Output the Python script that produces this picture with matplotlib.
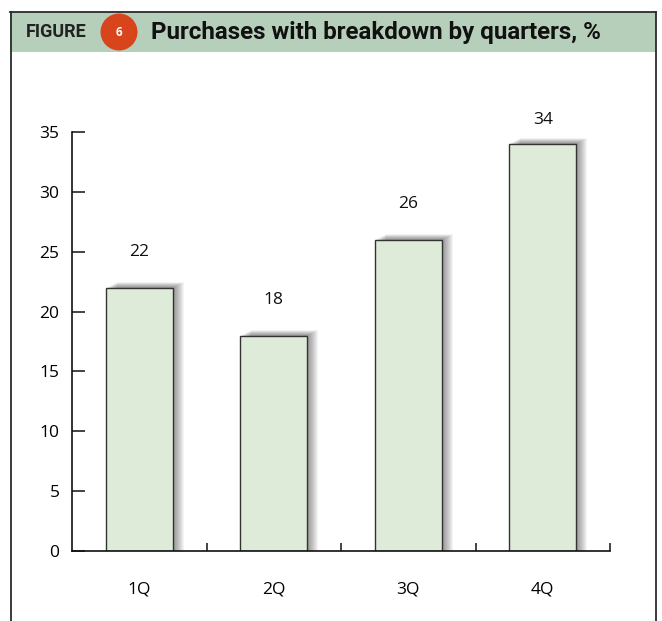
import matplotlib
matplotlib.use("Agg")
import matplotlib.pyplot as plt
from matplotlib.patches import Rectangle, Ellipse
from matplotlib.lines import Line2D

# data
quarters = ["1Q", "2Q", "3Q", "4Q"]
values = [22, 18, 26, 34]
yticks = [0, 5, 10, 15, 20, 25, 30, 35]

bar_color = "#deebd8"
header_color = "#b6cfba"
frame_color = "#2b2b2b"

plt.rcParams['font.family'] = ['Open Sans', 'DejaVu Sans']

fig = plt.figure(figsize=(6.62, 6.21), dpi=100)
W, H = 662, 621

# frame and header band
fig.patches.append(Rectangle((10 / W, 1 - 52 / H), 646 / W, 40 / H, transform=fig.transFigure,
                             facecolor=header_color, edgecolor="none", zorder=0))
for xs, ys in [([10.5, 10.5], [12, 621]), ([656, 656], [12, 621]), ([10, 656], [12, 12])]:
    fig.lines.append(Line2D([x / W for x in xs], [1 - y / H for y in ys], transform=fig.transFigure,
                            color=frame_color, lw=1.3))
fig.text(26 / W, 1 - 32 / H, "FIGURE", fontsize=13, fontweight="bold", color="#222222",
         va="center", ha="left", family=['Roboto', 'DejaVu Sans'])
fig.patches.append(Ellipse((119 / W, 1 - 32 / H), 37 / W, 37 / H, transform=fig.transFigure,
                           facecolor="#d8451d", edgecolor="none"))
fig.text(119 / W, 1 - 32 / H, "6", fontsize=8.5, fontweight="bold", color="white",
         va="center", ha="center")
fig.text(151 / W, 1 - 32 / H, "Purchases with breakdown by quarters, %", fontsize=17.4,
         fontweight="bold", color="#111111", va="center", ha="left",
         family=['Roboto', 'DejaVu Sans'])

ax = fig.add_axes([72 / W, 1 - 551 / H, 538 / W, 419 / H])
x = list(range(len(quarters)))
bw = 0.5

# soft shadow behind each bar (top and right)
px = 4 / 538
py = 35 / 419
for xi, v in zip(x, values):
    for k in range(1, 12):
        ax.add_patch(Rectangle((xi - bw / 2 + k * px, 0), bw, v + k * 0.5 * py,
                               facecolor="black", alpha=0.045, edgecolor="none", zorder=1))

ax.bar(x, values, width=bw, color=bar_color, edgecolor="#333333", linewidth=1.0, zorder=2)
for xi, v in zip(x, values):
    ax.text(xi, min(v + 3, 36), str(v), ha="center", va="center", fontsize=12.5,
            color="#111111", clip_on=False)

ax.set_xlim(-0.5, 3.5)
ax.set_ylim(0, 35)
ax.set_yticks(yticks)
ax.set_xticks(x)
ax.set_xticklabels(quarters)
ax.set_xticks([0.5, 1.5, 2.5, 3.5], minor=True)
ax.tick_params(axis="x", which="major", length=0, pad=22, labelsize=12.5)
ax.tick_params(axis="x", which="minor", direction="in", length=6, width=1.1, color="#111111")
ax.tick_params(axis="y", direction="in", length=9, width=1.1, color="#111111", pad=9,
               labelsize=12.5)
for s in ["top", "right"]:
    ax.spines[s].set_visible(False)
for s in ["left", "bottom"]:
    ax.spines[s].set_linewidth(1.2)
    ax.spines[s].set_color("#111111")

fig.savefig("out.png", dpi=100)
